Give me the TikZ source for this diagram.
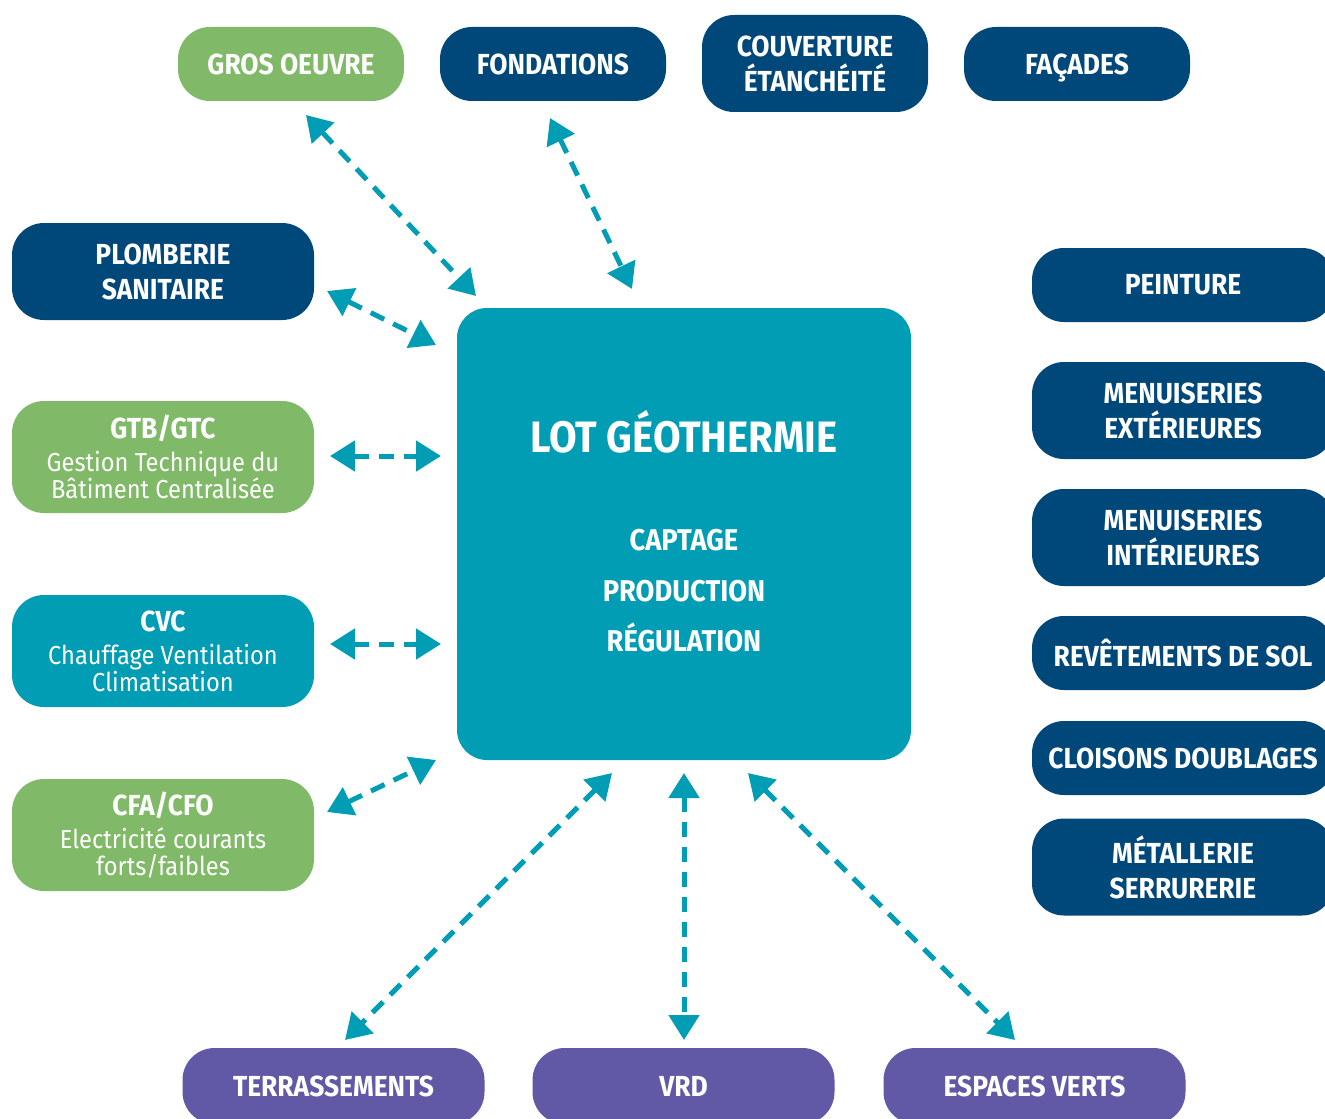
\documentclass[tikz,border=0pt]{standalone}
\usepackage{fontspec}
\setmainfont{Fira Sans}
\newfontfamily\cf[FakeStretch=0.91]{Fira Sans}
\usetikzlibrary{arrows.meta}
\definecolor{cgreen}{HTML}{80BA68}
\definecolor{cblue}{HTML}{00487A}
\definecolor{cteal}{HTML}{009DB5}
\definecolor{cpurple}{HTML}{6159A6}
\tikzset{
  box/.style={rectangle, rounded corners=16pt, text=white, align=center, inner sep=0pt,
    font=\cf\bfseries\fontsize{14.5}{17.5}\selectfont},
  sm/.style={box, minimum width=113pt, minimum height=37pt},
  wide/.style={box, minimum width=151pt},
  conn/.style={draw=cteal, line width=2.5pt, dash pattern=on 7.5pt off 5pt,
    {Triangle[length=12.5pt,width=15pt]}-{Triangle[length=12.5pt,width=15pt]}},
  sub/.style={text=white, font=\cf\bfseries\fontsize{15}{18}\selectfont, inner sep=0pt, anchor=base},
}
\newcommand{\myreg}{\mdseries\fontsize{13}{13.5}\selectfont}
\begin{document}
\begin{tikzpicture}[x=0.5pt,y=-0.5pt]
\useasboundingbox (0,0) rectangle (1325,1118);
\clip (0,0) rectangle (1325,1118);
% top row
\node[sm, fill=cgreen] (gros) at (291,64) {GROS OEUVRE};
\node[sm, fill=cblue] (fond) at (553,64) {FONDATIONS};
\node[sm, fill=cblue, minimum height=48.5pt] (couv) at (815,63.5) {COUVERTURE\\ÉTANCHÉITÉ};
\node[sm, fill=cblue] (fac) at (1077,64) {FA\smash{Ç}ADES};
% left column
\node[wide, fill=cblue, minimum height=48.5pt] (plomb) at (163,271.5) {PLOMBERIE\\SANITAIRE};
\node[wide, fill=cgreen, minimum height=56pt] (gtb) at (163,457) {GTB/GTC\\[-1pt]\myreg Gestion Technique du\\[-4pt]\myreg Bâtiment Centralisée};
\node[wide, fill=cteal, minimum height=56pt] (cvc) at (163,651) {CVC\\[-1pt]\myreg Chauffage Ventilation\\[-4pt]\myreg Climatisation};
\node[wide, fill=cgreen, minimum height=56pt] (cfa) at (163,835) {CFA/CFO\\[-1pt]\myreg Electricité courants\\[-4pt]\myreg forts/faibles};
% centre
\node[rectangle, rounded corners=15pt, fill=cteal, minimum width=227pt, minimum height=226pt] (lot) at (684,534) {};
\node[sub, font=\cf\bfseries\fontsize{22}{24}\selectfont] (title) at (684,452) {LOT GÉOTHERMIE};
\node[sub] (cap) at (684,550) {CAPTAGE};
\node[sub] (prod) at (684,601) {PRODUCTION};
\node[sub] (regu) at (684,651) {RÉGULATION};
% right column
\node[wide, fill=cblue, minimum height=37pt] (peint) at (1183,285) {PEINTURE};
\node[wide, fill=cblue, minimum height=48.5pt] (mext) at (1183,410.5) {MENUISERIES\\EXTÉRIEURES};
\node[wide, fill=cblue, minimum height=48.5pt] (mint) at (1183,537.5) {MENUISERIES\\INTÉRIEURES};
\node[wide, fill=cblue, minimum height=37pt] (rev) at (1183,653) {REVÊTEMENTS DE SOL};
\node[wide, fill=cblue, minimum height=37pt] (clo) at (1183,758) {CLOISONS DOUBLAGES};
\node[wide, fill=cblue, minimum height=48.5pt] (met) at (1183,867) {MÉTALLERIE\\SERRURERIE};
% bottom row
\node[wide, fill=cpurple, minimum height=38pt] (terr) at (333.5,1086) {TERRASSEMENTS};
\node[wide, fill=cpurple, minimum height=38pt] (vrd) at (683.5,1086) {VRD};
\node[wide, fill=cpurple, minimum height=38pt] (esp) at (1034.5,1086) {ESPACES VERTS};
% connector ends
\coordinate (g1) at (306,115); \coordinate (g2) at (476,296);
\coordinate (f1) at (550,118); \coordinate (f2) at (632,289);
\coordinate (p1) at (327,291); \coordinate (p2) at (436,345);
\coordinate (t1) at (330,456); \coordinate (t2) at (441,456);
\coordinate (c1) at (330,644); \coordinate (c2) at (441,644);
\coordinate (e1) at (327,812); \coordinate (e2) at (436,760);
\coordinate (r1) at (612,773); \coordinate (r2) at (345,1040);
\coordinate (v1) at (684,773); \coordinate (v2) at (684,1040);
\coordinate (s1) at (748,773); \coordinate (s2) at (1015,1040);
\draw[conn] (g1) -- (g2);
\draw[conn] (f1) -- (f2);
\draw[conn] (p1) -- (p2);
\draw[conn] (t1) -- (t2);
\draw[conn] (c1) -- (c2);
\draw[conn] (e1) -- (e2);
\draw[conn] (r1) -- (r2);
\draw[conn] (v1) -- (v2);
\draw[conn] (s1) -- (s2);
\end{tikzpicture}
\end{document}
